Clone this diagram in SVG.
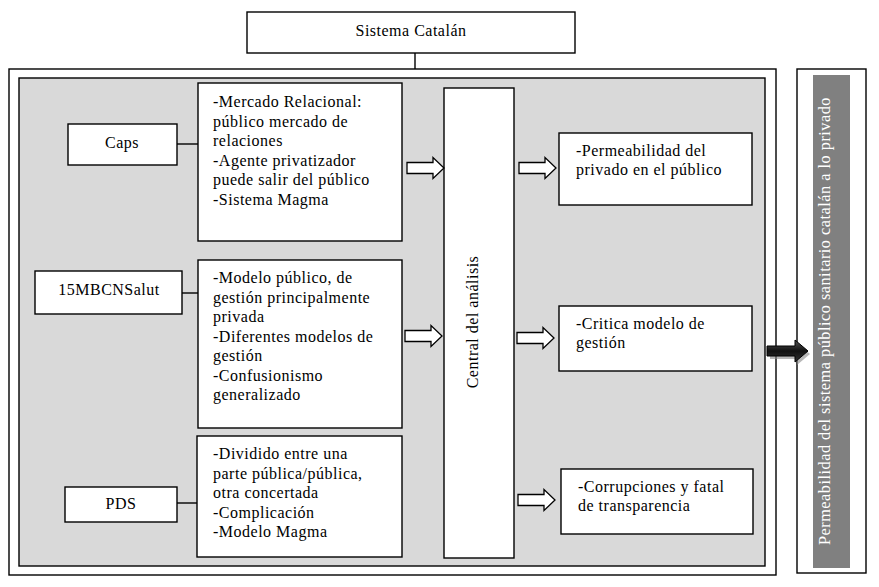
<svg xmlns="http://www.w3.org/2000/svg" width="879" height="587" viewBox="0 0 879 587">
<style>
.b{fill:#fff;stroke:#000;stroke-width:1.4}
.t{font-family:"Liberation Serif","Times New Roman",serif;font-size:16px;letter-spacing:0.5px;fill:#000}
.c{text-anchor:middle}
.ln{stroke:#000;stroke-width:1.4;fill:none}
.ar{fill:#fff;stroke:#000;stroke-width:1.3}
</style>
<defs>
<path id="arw" d="M0,-5.5 H26 V-10.5 L37,0 L26,10.5 V5.5 H0 Z"/>
<linearGradient id="dk" x1="0" y1="0" x2="0" y2="1">
<stop offset="0" stop-color="#555"/>
<stop offset="0.5" stop-color="#111"/>
<stop offset="1" stop-color="#333"/>
</linearGradient>
</defs>
<rect x="0" y="0" width="879" height="587" fill="#fff"/>
<g id="outer">
<rect x="9" y="69" width="767" height="506" class="b"/>
<rect x="19" y="78" width="746" height="488" fill="#d9d9d9" stroke="#000" stroke-width="1.4"/>
</g>
<g id="sistema">
<rect x="247" y="12" width="328" height="41" class="b"/>
<text x="411" y="36" class="t c">Sistema Catalán</text>
</g>
<g id="caps">
<rect x="68" y="124" width="109" height="41" class="b"/>
<text x="122" y="148" class="t c">Caps</text>
</g>
<g id="box1">
<rect x="198" y="83" width="204" height="158" class="b"/>
<text class="t"><tspan x="213" y="107">-Mercado Relacional:</tspan><tspan x="213" y="126.5">público mercado de</tspan><tspan x="213" y="146">relaciones</tspan><tspan x="213" y="165.5">-Agente privatizador</tspan><tspan x="213" y="185">puede salir del público</tspan><tspan x="213" y="204.5">-Sistema Magma</tspan></text>
</g>
<g id="mbcn">
<rect x="35" y="271" width="147" height="43" class="b"/>
<text x="109" y="295" class="t c">15MBCNSalut</text>
</g>
<g id="box2">
<rect x="198" y="260" width="204" height="168" class="b"/>
<text class="t"><tspan x="213" y="283">-Modelo público, de</tspan><tspan x="213" y="302.5">gestión principalmente</tspan><tspan x="213" y="322">privada</tspan><tspan x="213" y="341.5">-Diferentes modelos de</tspan><tspan x="213" y="361">gestión</tspan><tspan x="213" y="380.5">-Confusionismo</tspan><tspan x="213" y="400">generalizado</tspan></text>
</g>
<g id="pds">
<rect x="65" y="487" width="112" height="35" class="b"/>
<text x="121" y="509" class="t c">PDS</text>
</g>
<g id="box3">
<rect x="197" y="436" width="205" height="121" class="b"/>
<text class="t"><tspan x="213" y="459">-Dividido entre una</tspan><tspan x="213" y="478.5">parte pública/pública,</tspan><tspan x="213" y="498">otra concertada</tspan><tspan x="213" y="517.5">-Complicación</tspan><tspan x="213" y="537">-Modelo Magma</tspan></text>
</g>
<g id="central">
<rect x="444" y="88" width="70" height="470" class="b"/>
<text class="t c" transform="translate(478,322) rotate(-90)">Central del análisis</text>
</g>
<g id="perm">
<rect x="559" y="133" width="193" height="72" class="b"/>
<text class="t"><tspan x="576" y="156">-Permeabilidad del</tspan><tspan x="576" y="175">privado en el público</tspan></text>
</g>
<g id="critica">
<rect x="559" y="306" width="193" height="65" class="b"/>
<text class="t"><tspan x="576" y="329">-Critica modelo de</tspan><tspan x="576" y="348">gestión</tspan></text>
</g>
<g id="corrup">
<rect x="561" y="469" width="192" height="65" class="b"/>
<text class="t"><tspan x="578" y="492">-Corrupciones y fatal</tspan><tspan x="578" y="511">de transparencia</tspan></text>
</g>
<g id="result">
<rect x="797" y="69" width="69" height="504" class="b"/>
<rect x="813" y="75" width="37" height="493" fill="#808080"/>
<text class="t c" style="fill:#fff" transform="translate(830,321) rotate(-90)" textLength="448" lengthAdjust="spacingAndGlyphs">Permeabilidad del sistema público sanitario catalán a lo privado</text>
</g>
<g id="connectors">
<line x1="415" y1="53" x2="415" y2="69" class="ln"/>
<line x1="177" y1="144" x2="198" y2="144" class="ln"/>
<line x1="182" y1="293" x2="198" y2="293" class="ln"/>
<line x1="177" y1="503" x2="197" y2="503" class="ln"/>
<use href="#arw" class="ar" transform="translate(407,168)"/>
<use href="#arw" class="ar" transform="translate(519,168)"/>
<use href="#arw" class="ar" transform="translate(405,336)"/>
<use href="#arw" class="ar" transform="translate(517,338)"/>
<use href="#arw" class="ar" transform="translate(518,500)"/>
<path d="M770,349 H797 V343 L810,354 L797,365 V359 H770 Z" fill="#888" opacity="0.6"/>
<path d="M767,346 H795 V340 L808,351 L795,362 V356 H767 Z" fill="url(#dk)" stroke="#000" stroke-width="1"/>
</g>
</svg>
